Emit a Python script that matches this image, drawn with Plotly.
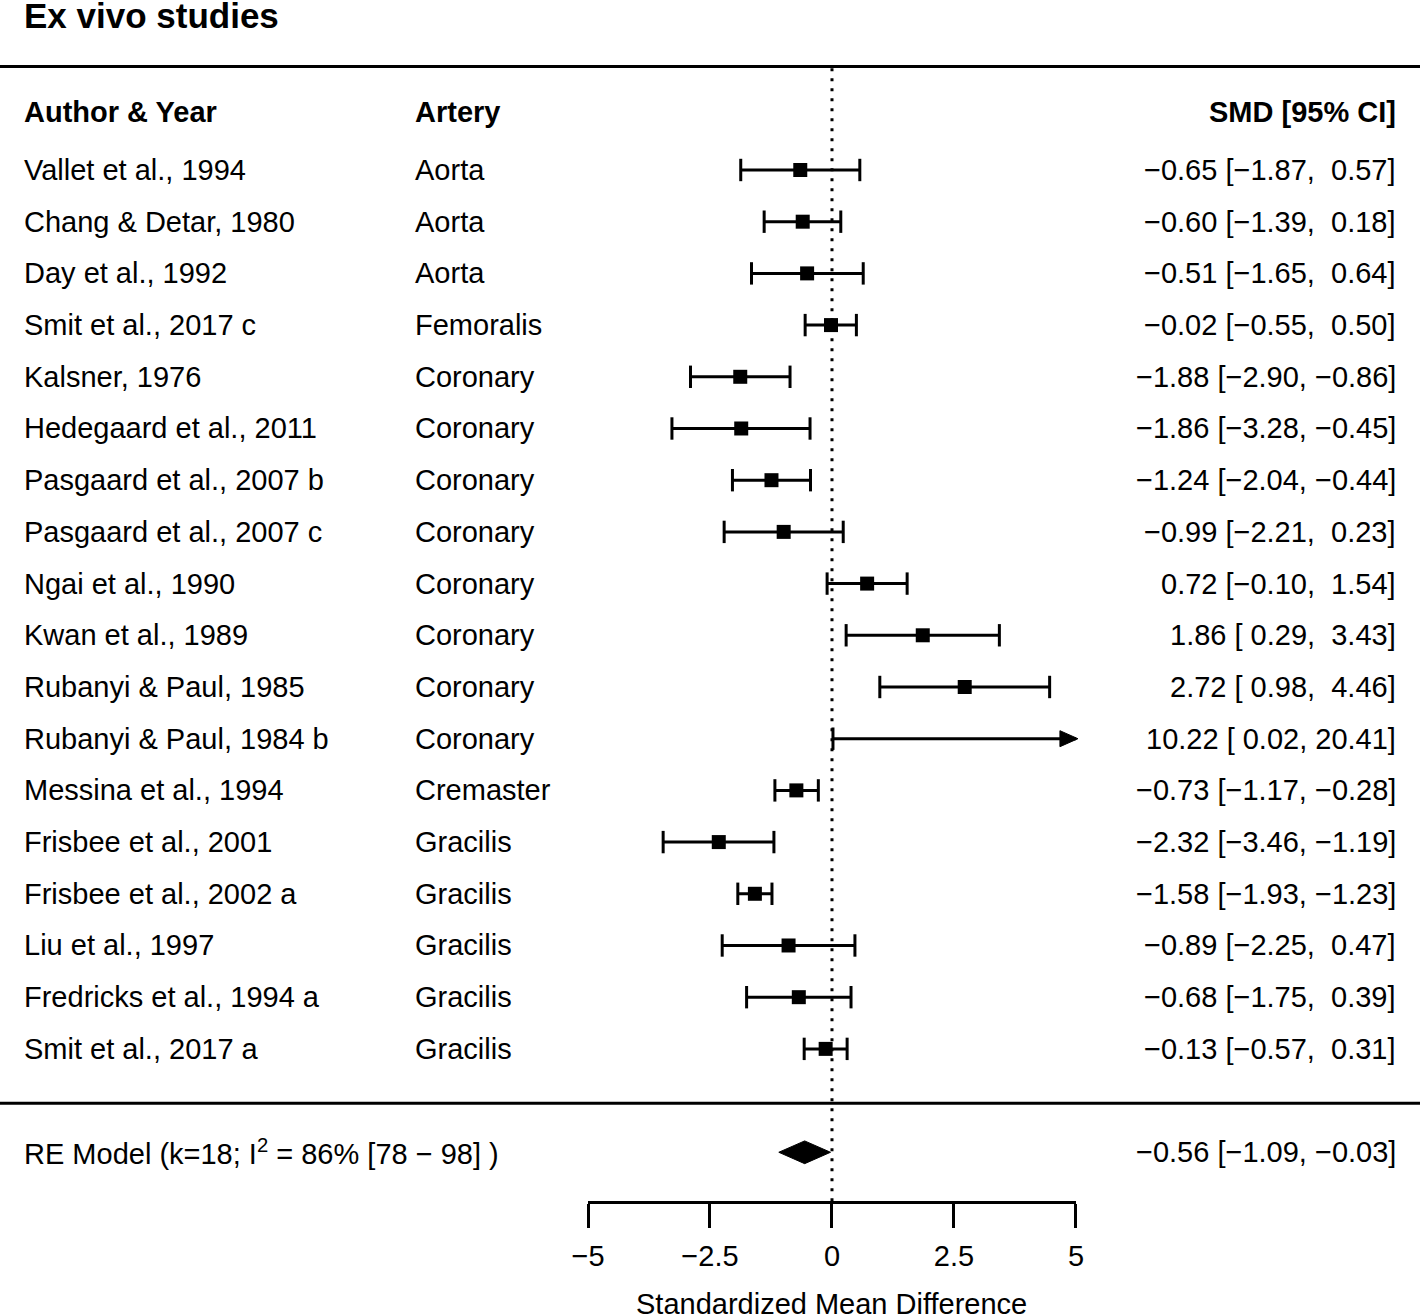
import plotly.graph_objects as go

# ---------------- data ----------------
authors = ["Vallet et al., 1994", "Chang &amp; Detar, 1980", "Day et al., 1992", "Smit et al., 2017 c",
           "Kalsner, 1976", "Hedegaard et al., 2011", "Pasgaard et al., 2007 b", "Pasgaard et al., 2007 c",
           "Ngai et al., 1990", "Kwan et al., 1989", "Rubanyi &amp; Paul, 1985", "Rubanyi &amp; Paul, 1984 b",
           "Messina et al., 1994", "Frisbee et al., 2001", "Frisbee et al., 2002 a", "Liu et al., 1997",
           "Fredricks et al., 1994 a", "Smit et al., 2017 a"]
arteries = ["Aorta", "Aorta", "Aorta", "Femoralis", "Coronary", "Coronary", "Coronary", "Coronary",
            "Coronary", "Coronary", "Coronary", "Coronary", "Cremaster", "Gracilis", "Gracilis",
            "Gracilis", "Gracilis", "Gracilis"]
smd = [-0.65, -0.60, -0.51, -0.02, -1.88, -1.86, -1.24, -0.99, 0.72, 1.86, 2.72, 10.22,
       -0.73, -2.32, -1.58, -0.89, -0.68, -0.13]
ci_lo = [-1.87, -1.39, -1.65, -0.55, -2.90, -3.28, -2.04, -2.21, -0.10, 0.29, 0.98, 0.02,
         -1.17, -3.46, -1.93, -2.25, -1.75, -0.57]
ci_hi = [0.57, 0.18, 0.64, 0.50, -0.86, -0.45, -0.44, 0.23, 1.54, 3.43, 4.46, 20.41,
         -0.28, -1.19, -1.23, 0.47, 0.39, 0.31]
re_est, re_lo, re_hi = -0.56, -1.09, -0.03
re_label = "RE Model (k=18; I<sup>2</sup> = 86% [78 \u2212 98] )"
tick_vals = [-5, -2.5, 0, 2.5, 5]
tick_text = ["\u22125", "\u22122.5", "0", "2.5", "5"]
x_title = "Standardized Mean Difference"
alim = (-5, 5)

# ---------------- layout constants ----------------
W, H = 1420, 1314
XR = (-17.05, 12.05)
YR = (22.128, -3.288)
FONT = "Liberation Sans, Arial, Helvetica, sans-serif"
FS = 29
n = len(authors)
ys = list(range(n))
y_re = n + 1
y_axis = n + 1.96
x_author, x_artery, x_right = -16.60, -8.59, 11.60


def fmt(v):
    return f"{v:5.2f}".replace("-", "\u2212").replace(" ", "\u00a0")


def label(e, lo, hi):
    return f"{e:.2f}".replace("-", "\u2212") + "\u00a0[" + fmt(lo) + ",\u00a0" + fmt(hi) + "]"


fig = go.Figure()

# CI lines and caps
lx, ly, cx, cy, sx, sy = [], [], [], [], [], []
arrows = []
for y, e, lo, hi in zip(ys, smd, ci_lo, ci_hi):
    lo_c, hi_c = max(lo, alim[0]), min(hi, alim[1])
    lx += [lo_c, hi_c, None]
    ly += [y, y, None]
    if lo >= alim[0]:
        cx.append(lo); cy.append(y)
    if hi <= alim[1]:
        cx.append(hi); cy.append(y)
    else:
        arrows.append((alim[1], y))
    if alim[0] <= e <= alim[1]:
        sx.append(e); sy.append(y)

fig.add_trace(go.Scatter(x=lx, y=ly, mode="lines", line=dict(color="black", width=3),
                         hoverinfo="skip", showlegend=False))
fig.add_trace(go.Scatter(x=cx, y=cy, mode="markers",
                         marker=dict(symbol="line-ns", size=16, line=dict(color="black", width=3)),
                         hoverinfo="skip", showlegend=False))
fig.add_trace(go.Scatter(x=sx, y=sy, mode="markers",
                         marker=dict(symbol="square", size=14, color="black", line=dict(width=0)),
                         hoverinfo="skip", showlegend=False))

# arrows for truncated CIs
aw, ah = 18 / 48.8, 8 / 51.7
for ax_, ay_ in arrows:
    fig.add_trace(go.Scatter(x=[ax_ + 0.04, ax_ + 0.04 - aw, ax_ + 0.04 - aw, ax_ + 0.04],
                             y=[ay_, ay_ - ah, ay_ + ah, ay_], mode="lines", fill="toself",
                             fillcolor="black", line=dict(color="black", width=1),
                             hoverinfo="skip", showlegend=False))

# summary diamond
dh = 0.22
fig.add_trace(go.Scatter(x=[re_lo, re_est, re_hi, re_est, re_lo],
                         y=[y_re, y_re - dh, y_re, y_re + dh, y_re], mode="lines", fill="toself",
                         fillcolor="black", line=dict(color="black", width=1),
                         hoverinfo="skip", showlegend=False))

# dummy trace for the bottom axis
fig.add_trace(go.Scatter(x=[alim[0], alim[1]], y=[y_axis, y_axis], xaxis="x2", yaxis="y",
                         mode="markers", marker=dict(opacity=0), hoverinfo="skip", showlegend=False))

# ---------------- texts ----------------
ann = []
def txt(x, y, t, anchor, size=FS):
    ann.append(dict(x=x, y=y, xref="x", yref="y", text=t, showarrow=False, xanchor=anchor,
                    yanchor="middle", font=dict(family=FONT, size=size, color="black")))

txt(x_author, -2.98, "<b>Ex vivo studies</b>", "left", 35)
txt(x_author, -1.13, "<b>Author &amp; Year</b>", "left")
txt(x_artery, -1.13, "<b>Artery</b>", "left")
txt(x_right, -1.13, "<b>SMD [95% CI]</b>", "right")
for y, a, art, e, lo, hi in zip(ys, authors, arteries, smd, ci_lo, ci_hi):
    txt(x_author, y, a, "left")
    txt(x_artery, y, art, "left")
    txt(x_right, y, label(e, lo, hi), "right")
txt(x_author, y_re, re_label, "left")
txt(x_right, y_re, label(re_est, re_lo, re_hi), "right")
txt(0, n + 3.94, x_title, "center")

# ---------------- shapes ----------------
shapes = [
    dict(type="line", xref="paper", yref="y", x0=0, x1=1, y0=-2, y1=-2, line=dict(color="black", width=3)),
    dict(type="line", xref="paper", yref="y", x0=0, x1=1, y0=n + 0.05, y1=n + 0.05,
         line=dict(color="black", width=3)),
    dict(type="line", xref="x", yref="y", x0=0, x1=0, y0=-1.97, y1=y_axis,
         line=dict(color="black", width=3, dash="3px,7px")),
]

xa_dom = ((alim[0] - XR[0]) / (XR[1] - XR[0]), (alim[1] - XR[0]) / (XR[1] - XR[0]))
ax_pos = (YR[0] - y_axis) / (YR[0] - YR[1])

fig.update_layout(
    width=W, height=H, margin=dict(l=0, r=0, t=0, b=0, pad=0, autoexpand=False),
    paper_bgcolor="white", plot_bgcolor="rgba(0,0,0,0)",
    xaxis=dict(range=list(XR), visible=False, fixedrange=True, automargin=False),
    yaxis=dict(range=list(YR), visible=False, fixedrange=True, automargin=False),
    xaxis2=dict(domain=list(xa_dom), range=list(alim), anchor="free", position=ax_pos,
                showline=True, linecolor="black", linewidth=3, ticks="outside", ticklen=24,
                tickwidth=3, tickcolor="black", tickvals=tick_vals, ticktext=tick_text,
                tickfont=dict(family=FONT, size=FS, color="black"), showgrid=False, zeroline=False,
                ticklabelstandoff=3, automargin=False, fixedrange=True),
    annotations=ann, shapes=shapes, showlegend=False,
)

fig.write_html("out.html", config={"displayModeBar": False},
               post_script="document.body.style.margin='0px';")
